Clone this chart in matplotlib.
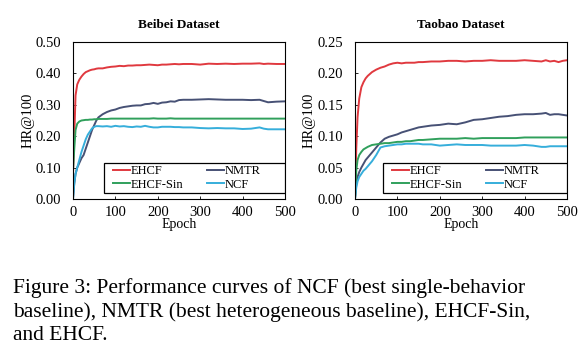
import matplotlib
matplotlib.use("Agg")
import matplotlib.pyplot as plt
from matplotlib.patches import Rectangle
import numpy as np

plt.rcParams['font.family'] = ['Liberation Serif', 'DejaVu Serif']

# epochs at which the curves are sampled
beibei_epochs = [0, 3, 6, 10, 15, 20, 25, 30, 35, 40, 45, 50, 55, 60, 70, 80, 90, 100, 110,
                 120, 130, 140, 150, 160, 170, 180, 190, 200, 210, 220, 230, 240, 250,
                 260, 280, 300, 320, 340, 360, 380, 400, 420, 440, 450, 460, 480, 500]
beibei_ehcf = [0.08, 0.20, 0.33, 0.365, 0.38, 0.39, 0.398, 0.404, 0.407, 0.41, 0.412, 0.413,
               0.415, 0.416, 0.416, 0.419, 0.421, 0.422, 0.424, 0.423, 0.425, 0.425, 0.426,
               0.426, 0.427, 0.428, 0.427, 0.426, 0.428, 0.428, 0.429, 0.43, 0.429, 0.43,
               0.43, 0.428, 0.431, 0.43, 0.431, 0.43, 0.431, 0.431, 0.432, 0.43, 0.431,
               0.43, 0.43]
beibei_nmtr = [0.0, 0.05, 0.08, 0.10, 0.115, 0.13, 0.14, 0.16, 0.18, 0.20, 0.22, 0.235, 0.25,
               0.26, 0.27, 0.277, 0.282, 0.285, 0.29, 0.293, 0.295, 0.297, 0.298, 0.298,
               0.302, 0.303, 0.306, 0.303, 0.307, 0.308, 0.311, 0.31, 0.315, 0.316, 0.316,
               0.317, 0.318, 0.317, 0.316, 0.316, 0.316, 0.315, 0.316, 0.312, 0.308, 0.31,
               0.311]
beibei_sin = [0.09, 0.16, 0.22, 0.24, 0.247, 0.25, 0.251, 0.252, 0.252, 0.253, 0.253, 0.254,
              0.254, 0.255, 0.255, 0.255, 0.256, 0.256, 0.256, 0.256, 0.256, 0.256, 0.256,
              0.256, 0.256, 0.256, 0.257, 0.256, 0.256, 0.256, 0.257, 0.256, 0.256, 0.256,
              0.256, 0.256, 0.256, 0.256, 0.256, 0.256, 0.256, 0.256, 0.256, 0.256, 0.256,
              0.256, 0.256]
beibei_ncf = [0.0, 0.05, 0.08, 0.10, 0.125, 0.15, 0.17, 0.19, 0.205, 0.215, 0.225, 0.23,
              0.232, 0.232, 0.231, 0.232, 0.23, 0.233, 0.231, 0.232, 0.23, 0.229, 0.231,
              0.23, 0.233, 0.23, 0.228, 0.228, 0.23, 0.23, 0.23, 0.229, 0.229, 0.228,
              0.228, 0.226, 0.225, 0.226, 0.225, 0.225, 0.223, 0.224, 0.228, 0.224, 0.222,
              0.222, 0.222]

taobao_epochs = [0, 3, 6, 10, 15, 20, 25, 30, 40, 50, 60, 70, 80, 90, 100, 110, 120, 130,
                 140, 150, 160, 180, 200, 220, 240, 260, 280, 300, 320, 340, 360, 380, 400,
                 420, 440, 450, 460, 470, 480, 490, 500]
taobao_ehcf = [0.0, 0.08, 0.13, 0.16, 0.178, 0.186, 0.192, 0.196, 0.202, 0.206, 0.209, 0.211,
               0.214, 0.216, 0.217, 0.216, 0.217, 0.217, 0.217, 0.218, 0.218, 0.219, 0.219,
               0.22, 0.22, 0.219, 0.22, 0.22, 0.221, 0.22, 0.22, 0.22, 0.221, 0.22, 0.219,
               0.221, 0.219, 0.22, 0.218, 0.22, 0.221]
taobao_nmtr = [0.0, 0.025, 0.035, 0.043, 0.05, 0.056, 0.062, 0.066, 0.074, 0.082, 0.09, 0.096,
               0.099, 0.101, 0.103, 0.106, 0.108, 0.11, 0.112, 0.114, 0.115, 0.117, 0.118,
               0.12, 0.119, 0.122, 0.126, 0.127, 0.129, 0.131, 0.132, 0.134, 0.135, 0.135,
               0.136, 0.137, 0.134, 0.135, 0.135, 0.134, 0.133]
taobao_sin = [0.0, 0.045, 0.062, 0.07, 0.075, 0.079, 0.081, 0.083, 0.086, 0.087, 0.088, 0.089,
              0.089, 0.09, 0.091, 0.091, 0.092, 0.092, 0.093, 0.094, 0.094, 0.095, 0.096,
              0.096, 0.096, 0.097, 0.096, 0.097, 0.097, 0.097, 0.097, 0.097, 0.098, 0.098,
              0.098, 0.098, 0.098, 0.098, 0.098, 0.098, 0.098]
taobao_ncf = [0.0, 0.018, 0.028, 0.035, 0.04, 0.045, 0.048, 0.052, 0.06, 0.07, 0.082, 0.084,
              0.085, 0.086, 0.087, 0.087, 0.088, 0.088, 0.088, 0.088, 0.087, 0.087, 0.085,
              0.086, 0.087, 0.086, 0.086, 0.086, 0.085, 0.085, 0.085, 0.085, 0.086, 0.085,
              0.083, 0.083, 0.084, 0.084, 0.084, 0.084, 0.084]

labels = ['EHCF', 'NMTR', 'EHCF-Sin', 'NCF']
colors = ['#e0393f', '#475175', '#30a05c', '#36aedb']

caption = ("Figure 3: Performance curves of NCF (best single-behavior\n"
           "baseline), NMTR (best heterogeneous baseline), EHCF-Sin,\n"
           "and EHCF.")

fig = plt.figure(figsize=(5.83, 3.62), dpi=100)

panels = [
    ('Beibei Dataset', beibei_epochs, [beibei_ehcf, beibei_nmtr, beibei_sin, beibei_ncf],
     0.5, [0.0, 0.1, 0.2, 0.3, 0.4, 0.5], 73, 0.146),
    ('Taobao Dataset', taobao_epochs, [taobao_ehcf, taobao_nmtr, taobao_sin, taobao_ncf],
     0.25, [0.0, 0.05, 0.10, 0.15, 0.20, 0.25], 355, 0.13),
]

W, H = 583, 362
for title, epochs, series, ymax, yticks, left, legx in panels:
    ax = fig.add_axes([left / W, 1 - 199 / H, 212 / W, 157 / H])
    lines = []
    for vals, lab, c in zip(series, labels, colors):
        ln, = ax.plot(epochs, vals, color=c, linewidth=1.4, label=lab)
        lines.append(ln)
    ax.set_xlim(0, 500)
    ax.set_ylim(0, ymax)
    ax.set_xticks([0, 100, 200, 300, 400, 500])
    ax.set_yticks(yticks)
    ax.set_yticklabels(['%.2f' % v for v in yticks])
    ax.tick_params(direction='in', length=2.5, labelsize=10.5, width=0.6)
    ax.tick_params(axis='y', pad=8.5)
    ax.tick_params(axis='x', pad=5)
    for sp in ax.spines.values():
        sp.set_linewidth(0.8)
    ax.set_title(title, fontsize=9.5, fontweight='bold', pad=10)
    ax.set_xlabel('Epoch', fontsize=10, labelpad=-1)
    ax.set_ylabel('HR@100', fontsize=10.5, labelpad=1)

    # legend frame spans to the right spine, wider than its entries
    ax.add_patch(Rectangle((legx, 0.038), 1 - legx, 0.191, transform=ax.transAxes,
                           facecolor='white', edgecolor='black', linewidth=0.9, zorder=4))
    # column-major fill: rows read EHCF / NMTR, EHCF-Sin / NCF
    leg = ax.legend(handles=[lines[0], lines[2], lines[1], lines[3]], ncol=2,
                    loc='center left', bbox_to_anchor=(legx + 0.045, 0.038 + 0.0955),
                    fontsize=9, frameon=False, handlelength=1.35,
                    handletextpad=0.05, borderpad=0, columnspacing=1.9,
                    labelspacing=0.1, borderaxespad=0)
    leg.set_zorder(5)

fig.text(13 / W, 1 - 278 / H, caption, fontsize=15.5, va='top', ha='left', linespacing=1.3)

fig.savefig('out.png', dpi=100)
